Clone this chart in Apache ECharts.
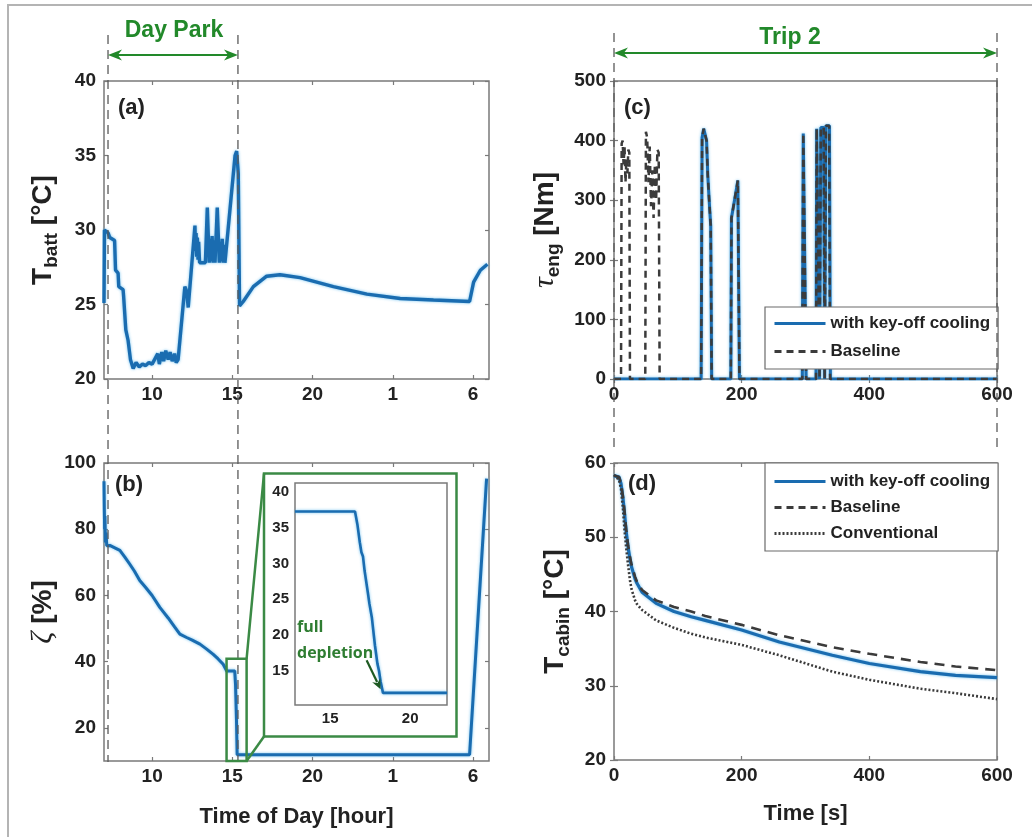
<!DOCTYPE html>
<html>
<head>
<meta charset="utf-8">
<script src="https://cdn.jsdelivr.net/npm/echarts@6/dist/echarts.min.js"></script>
<style>
  html, body { margin: 0; padding: 0; background: #ffffff; }
  #chart { width: 1032px; height: 837px; }
</style>
</head>
<body>
<div id="chart"></div>
<script>
// ---------- data ----------
// (a) battery temperature over the day, hour of day (values past 24 are next morning)
const battHours = [7.00, 7.03, 7.26, 7.36, 7.66, 7.72, 7.88, 7.92, 8.19, 8.22, 8.36, 8.50, 8.65, 8.82,
  9.00, 9.20, 9.40, 9.60, 9.80, 10.00, 10.20, 10.35, 10.45, 10.60, 10.72, 10.85, 11.00, 11.12, 11.25,
  11.40, 11.50, 11.62, 12.04, 12.15, 12.25, 12.67, 12.70, 12.74, 12.78, 12.82, 12.86, 12.90, 12.96,
  13.32, 13.44, 13.56, 13.62, 13.68, 13.74, 13.80, 13.86, 13.92, 14.06, 14.19, 14.25, 14.31, 14.37,
  14.43, 14.49, 14.54, 15.17, 15.27, 15.37, 15.45, 15.68, 16.31, 17.14, 17.97, 19.22, 21.30, 23.39,
  25.46, 27.54, 29.79, 30.04, 30.46, 30.90];
const battTemp = [25.1, 30.0, 29.8, 29.5, 29.3, 27.3, 27.1, 26.2, 26.0, 25.6, 23.3, 22.6, 21.3, 20.7,
  21.1, 20.8, 21.0, 20.9, 21.1, 21.0, 21.4, 21.7, 21.0, 21.8, 21.2, 21.9, 21.3, 21.8, 21.2,
  21.7, 21.1, 21.3, 26.2, 25.9, 24.8, 30.3, 28.6, 29.8, 28.2, 29.5, 28.0, 29.2, 27.8,
  27.8, 31.5, 27.8, 29.4, 27.9, 29.6, 27.8, 29.3, 27.8, 31.5, 27.8, 29.2, 27.9, 29.4,
  27.8, 29.0, 27.8, 35.0, 35.3, 33.8, 24.9, 25.2, 26.2, 26.9, 27.0, 26.8, 26.2, 25.7,
  25.4, 25.3, 25.2, 26.5, 27.3, 27.7];

// (b) battery state of charge over the day
const socHours = [7.00, 7.02, 7.04, 7.06, 7.09, 7.13, 7.17, 7.36, 7.99, 8.30, 8.60, 8.90, 9.23, 9.60,
  10.00, 10.48, 11.00, 11.40, 11.73, 12.15, 12.50, 12.98, 13.40, 13.81, 14.10, 14.43, 14.65, 15.15,
  15.20, 15.26, 15.30, 29.79, 30.85];
const socPct = [94.5, 86, 80, 84, 76, 79, 75, 75.1, 73.6, 71.6, 69.5, 67.3, 64.5, 62.4,
  60.0, 56.4, 53.2, 50.5, 48.3, 47.3, 46.5, 45.3, 43.8, 42.2, 40.9, 39.2, 37.2, 37.2,
  33.0, 22.0, 11.9, 11.9, 95.3];

// (b) inset: close-up of the depletion
const insetTime = [12.8, 16.55, 16.70, 16.85, 16.95, 17.05, 17.15, 17.35, 17.45, 17.60, 17.80, 17.95,
  18.05, 18.15, 18.30, 22.3];
const insetSoc = [37.3, 37.3, 35.5, 33.0, 31.6, 31.0, 29.0, 26.0, 24.4, 22.5, 18.5, 16.0,
  15.0, 13.5, 11.9, 11.9];

// (c) engine torque during trip 2
const torqueTimeBase = [0, 11, 12, 13.5, 15, 16.5, 18, 19.5, 21, 22.5, 24, 25,
  49, 50, 52, 54, 56, 58, 60, 62, 64, 66, 68, 70, 71.5,
  136.5, 138, 140.5, 143, 145, 147, 149, 151.5, 153,
  183, 184, 188, 192, 194, 196.5,
  295, 296.5, 298.5, 301,
  316.5, 317.5, 320.5, 322, 323, 324, 328.5, 330, 331, 332, 337, 338.5, 600];
const torqueBase = [0, 0, 395, 400, 360, 390, 330, 370, 345, 385, 380, 0,
  0, 415, 405, 330, 390, 290, 350, 270, 360, 300, 385, 380, 0,
  0, 405, 420, 418, 400, 340, 302, 257, 0,
  0, 270, 295, 320, 333, 0,
  0, 412, 412, 0,
  0, 420, 420, 0, 0, 422, 422, 0, 0, 425, 425, 0, 0];
const torqueTimeKeyOff = [0, 136.5, 138, 140.5, 143, 145, 147, 149, 151.5, 153,
  183, 184, 188, 192, 194, 196.5,
  295, 296.5, 298.5, 301,
  316.5, 317.5, 320.5, 322, 323, 324, 328.5, 330, 331, 332, 337.5, 339, 600];
const torqueKeyOff = [0, 0, 405, 420, 418, 400, 340, 302, 257, 0,
  0, 270, 295, 320, 333, 0,
  0, 412, 412, 0,
  0, 420, 420, 0, 0, 422, 422, 0, 0, 425, 425, 0, 0];

// (d) cabin temperature during trip 2
const cabinTime = [0, 8, 11, 14, 16.5, 19, 22, 25, 27.5, 33, 36, 44, 66, 94, 121, 143, 200, 259, 342, 400, 480, 535, 600];
const cabinKeyOff = [58.3, 58.1, 57.2, 55.3, 53.2, 50.8, 48.7, 47.1, 46.0, 44.4, 43.8, 42.6, 41.1, 40.0, 39.3, 38.8, 37.5, 35.9, 34.1, 33.0, 31.9, 31.4, 31.1];
const cabinBase = [58.3, 58.1, 57.3, 55.5, 53.5, 51.1, 49.0, 47.4, 46.3, 44.7, 44.0, 42.9, 41.5, 40.6, 40.0, 39.4, 38.2, 36.8, 35.2, 34.3, 33.2, 32.6, 32.1];
const cabinConv = [58.4, 57.7, 56.5, 53.9, 51.0, 48.7, 46.3, 44.2, 43.0, 41.5, 41.0, 40.2, 38.8, 37.8, 37.0, 36.5, 35.5, 34.1, 31.9, 30.8, 29.6, 29.0, 28.2];

// ticks
const hourTicks = [10, 15, 20, 25, 30];
const hourTickLabels = ['10', '15', '20', '1', '6'];
const socTicks = [20, 40, 60, 80, 100];
const insetXTicks = [15, 20];
const insetYTicks = [15, 20, 25, 30, 35, 40];

// events marked above the panels
const dayParkStart = 7.25, dayParkEnd = 15.35;
const tripStart = 0, tripEnd = 600;
const zoomBoxHours = [14.64, 15.89], zoomBoxSoc = [10, 40.9];
const depletionPoint = [18.15, 12.4];

// ---------- style ----------
const FONT = '"Liberation Sans", Arial, Helvetica, sans-serif';
const SERIF = '"Liberation Serif", "DejaVu Serif", serif';
const INK = '#222222';
const GREY = '#7a7a7a';
const BLUE = '#1a6cb0';
const DARK = '#3b3b3b';
const GREEN = '#22892a';
const BOXGREEN = '#3b8a45';

const zip = (xs, ys) => xs.map((x, i) => [x, ys[i]]);

function xAxisPair(grid, min, max, ticks, fmt, fontSize, name, nameGap) {
  const base = {
    type: 'value', gridIndex: grid, min: min, max: max,
    axisLine: { show: false }, splitLine: { show: false },
    axisTick: { show: true, inside: true, length: 4, customValues: ticks, lineStyle: { color: GREY, width: 1.2 } }
  };
  const bottom = Object.assign({}, base, {
    position: 'bottom',
    axisLabel: { show: true, customValues: ticks, margin: 6, color: INK, fontFamily: FONT, fontWeight: 'bold', fontSize: fontSize, formatter: fmt },
    name: name || '', nameLocation: 'middle', nameGap: nameGap || 0,
    nameTextStyle: { color: INK, fontFamily: FONT, fontWeight: 'bold', fontSize: 22 }
  });
  const top = Object.assign({}, base, { position: 'top', axisLabel: { show: false } });
  return [bottom, top];
}

function yAxisPair(grid, min, max, ticks, fontSize, name, nameGap, rich) {
  const base = {
    type: 'value', gridIndex: grid, min: min, max: max,
    axisLine: { show: false }, splitLine: { show: false },
    axisTick: { show: true, inside: true, length: 4, customValues: ticks, lineStyle: { color: GREY, width: 1.2 } }
  };
  const left = Object.assign({}, base, {
    position: 'left',
    axisLabel: { show: true, customValues: ticks, margin: fontSize > 17 ? 8 : 6, color: INK, fontFamily: FONT, fontWeight: 'bold', fontSize: fontSize },
    name: name || '', nameLocation: 'middle', nameRotate: 90, nameGap: nameGap || 0,
    nameTextStyle: { rich: rich || {} }
  });
  const right = Object.assign({}, base, { position: 'right', axisLabel: { show: false } });
  return [left, right];
}

const titleRich = {
  m: { fontSize: 28, fontWeight: 'bold', fontFamily: FONT, color: INK },
  s: { fontSize: 19, fontWeight: 'bold', fontFamily: FONT, color: INK, padding: [17, 0, 0, 0] },
  g: { fontSize: 30, fontStyle: 'italic', fontFamily: SERIF, color: INK }
};

const hourFmt = v => { const i = hourTicks.indexOf(v); return i >= 0 ? hourTickLabels[i] : ''; };

const gridBox = { show: true, borderColor: GREY, borderWidth: 1.5, backgroundColor: '#ffffff' };

const xAxes = [].concat(
  xAxisPair(0, 7, 31, hourTicks, hourFmt, 19),
  xAxisPair(1, 7, 31, hourTicks, hourFmt, 19, 'Time of Day [hour]', 45),
  xAxisPair(2, 0, 600, [0, 200, 400, 600], null, 19),
  xAxisPair(3, 0, 600, [0, 200, 400, 600], null, 19, 'Time [s]', 43),
  xAxisPair(4, 12.8, 22.3, insetXTicks, null, 15)
);
const yAxes = [].concat(
  yAxisPair(0, 20, 40, [20, 25, 30, 35, 40], 19, '{m|T}{s|batt}{m| [°C]}', 43, titleRich),
  yAxisPair(1, 10, 100, socTicks, 19, '{g|ζ}{m| [%]}', 46, titleRich),
  yAxisPair(2, 0, 500, [0, 100, 200, 300, 400, 500], 19, '{g|τ}{s|eng}{m| [Nm]}', 51, titleRich),
  yAxisPair(3, 20, 60, [20, 30, 40, 50, 60], 19, '{m|T}{s|cabin}{m| [°C]}', 41, titleRich),
  yAxisPair(4, 10.2, 41.3, insetYTicks, 15)
);

const blueLine = (w) => ({ color: BLUE, width: w, shadowColor: 'rgba(70,175,235,0.75)', shadowBlur: 3 });

function line(name, data, xi, yi, lineStyle, z) {
  return {
    type: 'line', name: name, data: data, xAxisIndex: xi, yAxisIndex: yi,
    symbol: 'none', showSymbol: false, lineStyle: lineStyle, itemStyle: { color: lineStyle.color },
    animation: false, z: z || 2, silent: true
  };
}

// legend rows show only the line sample (no marker)
const legendCommon = {
  orient: 'vertical', left: 765, itemWidth: 51, itemHeight: 14,
  backgroundColor: '#ffffff', borderColor: '#6b6b6b', borderWidth: 1.2,
  textStyle: { color: INK, fontFamily: FONT, fontWeight: 'bold', fontSize: 17 },
  itemStyle: { opacity: 0, borderWidth: 0 },
  lineStyle: { width: 3 },
  selectedMode: false
};

const option = {
  animation: false,
  backgroundColor: '#ffffff',
  grid: [
    Object.assign({ left: 104, top: 81, width: 385, height: 298 }, gridBox),
    Object.assign({ left: 104, top: 463, width: 385, height: 298 }, gridBox),
    Object.assign({ left: 614, top: 81, width: 383, height: 298 }, gridBox),
    Object.assign({ left: 614, top: 463, width: 383, height: 297 }, gridBox),
    Object.assign({ left: 295, top: 483, width: 152, height: 222 }, gridBox, { z: 5 })
  ],
  xAxis: xAxes,
  yAxis: yAxes,
  legend: [
    Object.assign({}, legendCommon, { top: 307, padding: [8, 8, 9, 8], itemGap: 11, data: ['with key-off cooling', 'Baseline'] }),
    Object.assign({}, legendCommon, { top: 463, padding: [10, 8, 9, 8], itemGap: 9, data: ['with key-off cooling', 'Baseline', 'Conventional'] })
  ],
  series: [
    line('Battery temperature', zip(battHours, battTemp), 0, 0, blueLine(3.4)),
    line('State of charge', zip(socHours, socPct), 2, 2, blueLine(3)),
    line('with key-off cooling', zip(torqueTimeKeyOff, torqueKeyOff), 4, 4, blueLine(3)),
    line('Baseline', zip(torqueTimeBase, torqueBase), 4, 4, { color: DARK, width: 2.5, type: [7, 5] }, 3),
    line('with key-off cooling', zip(cabinTime, cabinKeyOff), 6, 6, blueLine(3.2)),
    line('Baseline', zip(cabinTime, cabinBase), 6, 6, { color: DARK, width: 2.6, type: [10, 7] }, 3),
    line('Conventional', zip(cabinTime, cabinConv), 6, 6, { color: DARK, width: 2.6, type: [2, 2] }, 3),
    line('Depletion close-up', zip(insetTime, insetSoc), 8, 8, blueLine(2.6), 6)
  ]
};

const chart = echarts.init(document.getElementById('chart'), null, { renderer: 'canvas' });
chart.setOption(option);

// ---------- annotations placed with the axes' own scales ----------
const toPx = (xi, yi, pt) => chart.convertToPixel({ xAxisIndex: xi, yAxisIndex: yi }, pt);
const hx = h => chart.convertToPixel({ xAxisIndex: 0 }, h);
const tx = t => chart.convertToPixel({ xAxisIndex: 4 }, t);

function arrowHead(tipX, tipY, dirX, dirY, len, half, color) {
  const nx = -dirY, ny = dirX;
  const bx = tipX - dirX * len, by = tipY - dirY * len;
  const notchX = tipX - dirX * len * 0.7, notchY = tipY - dirY * len * 0.7;
  return {
    type: 'polygon', z: 20, silent: true,
    shape: { points: [[tipX, tipY], [bx + nx * half, by + ny * half], [notchX, notchY], [bx - nx * half, by - ny * half]] },
    style: { fill: color }
  };
}

function doubleArrow(x1, x2, y, color) {
  return [
    { type: 'line', z: 20, silent: true, shape: { x1: x1 + 4, y1: y, x2: x2 - 4, y2: y }, style: { stroke: color, lineWidth: 2.2 } },
    arrowHead(x1, y, -1, 0, 14, 5.5, color),
    arrowHead(x2, y, 1, 0, 14, 5.5, color)
  ];
}

function vDash(x, y1, y2) {
  return { type: 'line', z: 15, silent: true, shape: { x1: x, y1: y1, x2: x, y2: y2 }, style: { stroke: '#5a5a5a', lineWidth: 1.3, lineDash: [9, 6] } };
}

function label(text, x, y, opts) {
  return {
    type: 'text', z: 25, silent: true, x: x, y: y,
    style: Object.assign({ text: text, fill: INK, font: 'bold 22px ' + FONT, textAlign: 'left', textVerticalAlign: 'middle' }, opts || {})
  };
}

const pStart = hx(dayParkStart), pEnd = hx(dayParkEnd);
const tStart = tx(tripStart), tEnd = tx(tripEnd);

const zoomA = toPx(2, 2, [zoomBoxHours[0], zoomBoxSoc[1]]);
const zoomB = toPx(2, 2, [zoomBoxHours[1], zoomBoxSoc[0]]);
const bigL = 264, bigT = 473.5, bigR = 456.5, bigB = 736.5;

const tip = toPx(8, 8, depletionPoint);
const tail = [tip[0] - 14, tip[1] - 29];
const dl = Math.hypot(tip[0] - tail[0], tip[1] - tail[1]);
const dir = [(tip[0] - tail[0]) / dl, (tip[1] - tail[1]) / dl];

const graphics = [].concat(
  // figure frame
  [{ type: 'polyline', z: 1, silent: true, shape: { points: [[8, 837], [8, 5], [1032, 5]] }, style: { stroke: '#b4b4b4', lineWidth: 2, fill: null } }],
  // event markers
  [vDash(pStart, 35, 762), vDash(pEnd, 35, 762), vDash(tStart, 33, 447), vDash(tEnd, 33, 447)],
  doubleArrow(pStart, pEnd, 55, GREEN),
  doubleArrow(tStart, tEnd, 53, GREEN),
  [label('Day Park', (pStart + pEnd) / 2 + 1, 31, { fill: GREEN, font: 'bold 23px ' + FONT, textAlign: 'center' }),
   label('Trip 2', 790, 38, { fill: GREEN, font: 'bold 23px ' + FONT, textAlign: 'center' })],
  // panel tags
  [label('(a)', 118, 108), label('(b)', 115, 485), label('(c)', 624, 108), label('(d)', 628, 484)],
  // zoom boxes for the inset
  [{ type: 'rect', z: 18, silent: true, shape: { x: zoomA[0], y: zoomA[1], width: zoomB[0] - zoomA[0], height: zoomB[1] - zoomA[1] }, style: { stroke: BOXGREEN, lineWidth: 2.5, fill: null } },
   { type: 'rect', z: 18, silent: true, shape: { x: bigL, y: bigT, width: bigR - bigL, height: bigB - bigT }, style: { stroke: BOXGREEN, lineWidth: 2.5, fill: null } },
   { type: 'line', z: 18, silent: true, shape: { x1: zoomB[0], y1: zoomA[1], x2: bigL, y2: bigT }, style: { stroke: BOXGREEN, lineWidth: 2.5 } },
   { type: 'line', z: 18, silent: true, shape: { x1: zoomB[0], y1: zoomB[1], x2: bigL, y2: bigB }, style: { stroke: BOXGREEN, lineWidth: 2.5 } }],
  // depletion note
  [label('full', 297, 627, { fill: '#2f7d32', font: 'bold 16px "Open Sans", "Noto Sans", sans-serif' }),
   label('depletion', 297, 653, { fill: '#2f7d32', font: 'bold 16px "Open Sans", "Noto Sans", sans-serif' }),
   { type: 'line', z: 25, silent: true, shape: { x1: tail[0], y1: tail[1], x2: tip[0] - dir[0] * 8, y2: tip[1] - dir[1] * 8 }, style: { stroke: '#1e5a22', lineWidth: 2.2 } },
   arrowHead(tip[0], tip[1], dir[0], dir[1], 10, 4.5, '#1e5a22')]
);

chart.setOption({ graphic: graphics });
</script>
</body>
</html>
